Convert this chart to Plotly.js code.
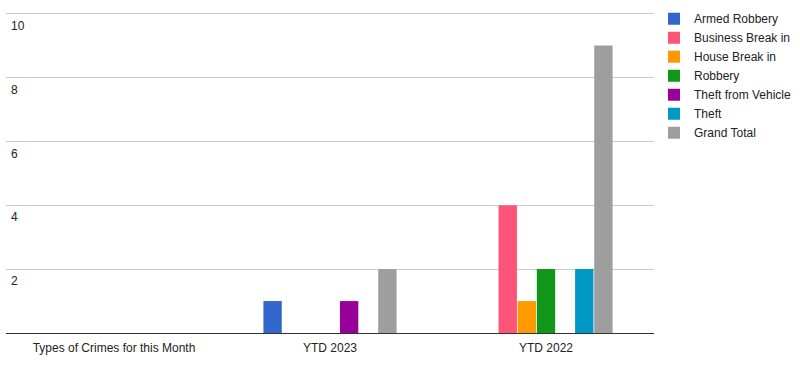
<!DOCTYPE html>
<html>
<head>
<meta charset="utf-8">
<script src="https://cdn.plot.ly/plotly-3.0.1.min.js"></script>
<style>html,body{margin:0;padding:0;background:#fff;}#chart{width:800px;height:381px;}</style>
</head>
<body>
<div id="chart"></div>
<script>
const categories = ["Types of Crimes for this Month", "YTD 2023", "YTD 2022"];
const seriesNames = ["Armed Robbery", "Business Break in", "House Break in", "Robbery", "Theft from Vehicle", "Theft", "Grand Total"];
const armedRobbery = [0, 1, 0];
const businessBreakIn = [0, 0, 4];
const houseBreakIn = [0, 0, 1];
const robbery = [0, 0, 2];
const theftFromVehicle = [0, 1, 0];
const theft = [0, 0, 2];
const grandTotal = [0, 2, 9];
const yTicks = [2, 4, 6, 8, 10];

const seriesValues = [armedRobbery, businessBreakIn, houseBreakIn, robbery, theftFromVehicle, theft, grandTotal];
const colors = ["#3366cc", "#fe5478", "#ff9900", "#109618", "#990099", "#0099c6", "#9e9e9e"];

const traces = seriesNames.map((name, i) => ({
  type: "bar",
  name: name,
  x: categories,
  y: seriesValues[i],
  marker: {color: colors[i], line: {width: 0}},
  hoverinfo: "x+y+name"
}));

const layout = {
  width: 800,
  height: 381,
  margin: {l: 6, r: 146, t: 12.4, b: 48, autoexpand: false},
  paper_bgcolor: "#ffffff",
  plot_bgcolor: "#ffffff",
  font: {family: "Arial, 'Liberation Sans', sans-serif", size: 12, color: "#222222"},
  barmode: "group",
  bargap: 0.38,
  bargroupgap: 0.04,
  showlegend: true,
  legend: {
    x: 1.0, xanchor: "left", y: 1.024, yanchor: "top",
    font: {size: 12, color: "#222222"},
    tracegroupgap: 0,
    itemwidth: 30,
    bgcolor: "rgba(0,0,0,0)"
  },
  xaxis: {
    type: "category",
    range: [-0.5, categories.length - 0.5],
    autorange: false,
    showgrid: false,
    showline: false,
    ticks: "",
    ticklabelstandoff: 6,
    tickfont: {size: 12, color: "#222222"},
    fixedrange: true
  },
  yaxis: {
    range: [0, 10.05],
    autorange: false,
    tickvals: yTicks,
    ticktext: yTicks.map(String),
    showgrid: true,
    gridcolor: "#cccccc",
    gridwidth: 1,
    zeroline: true,
    zerolinecolor: "#333333",
    zerolinewidth: 1,
    showline: false,
    ticks: "",
    ticklabelposition: "inside",
    ticklabelshift: 12,
    ticklabelstandoff: 2,
    tickfont: {size: 12, color: "#222222"},
    fixedrange: true
  }
};

Plotly.newPlot("chart", traces, layout, {displayModeBar: false, staticPlot: true});
</script>
</body>
</html>
